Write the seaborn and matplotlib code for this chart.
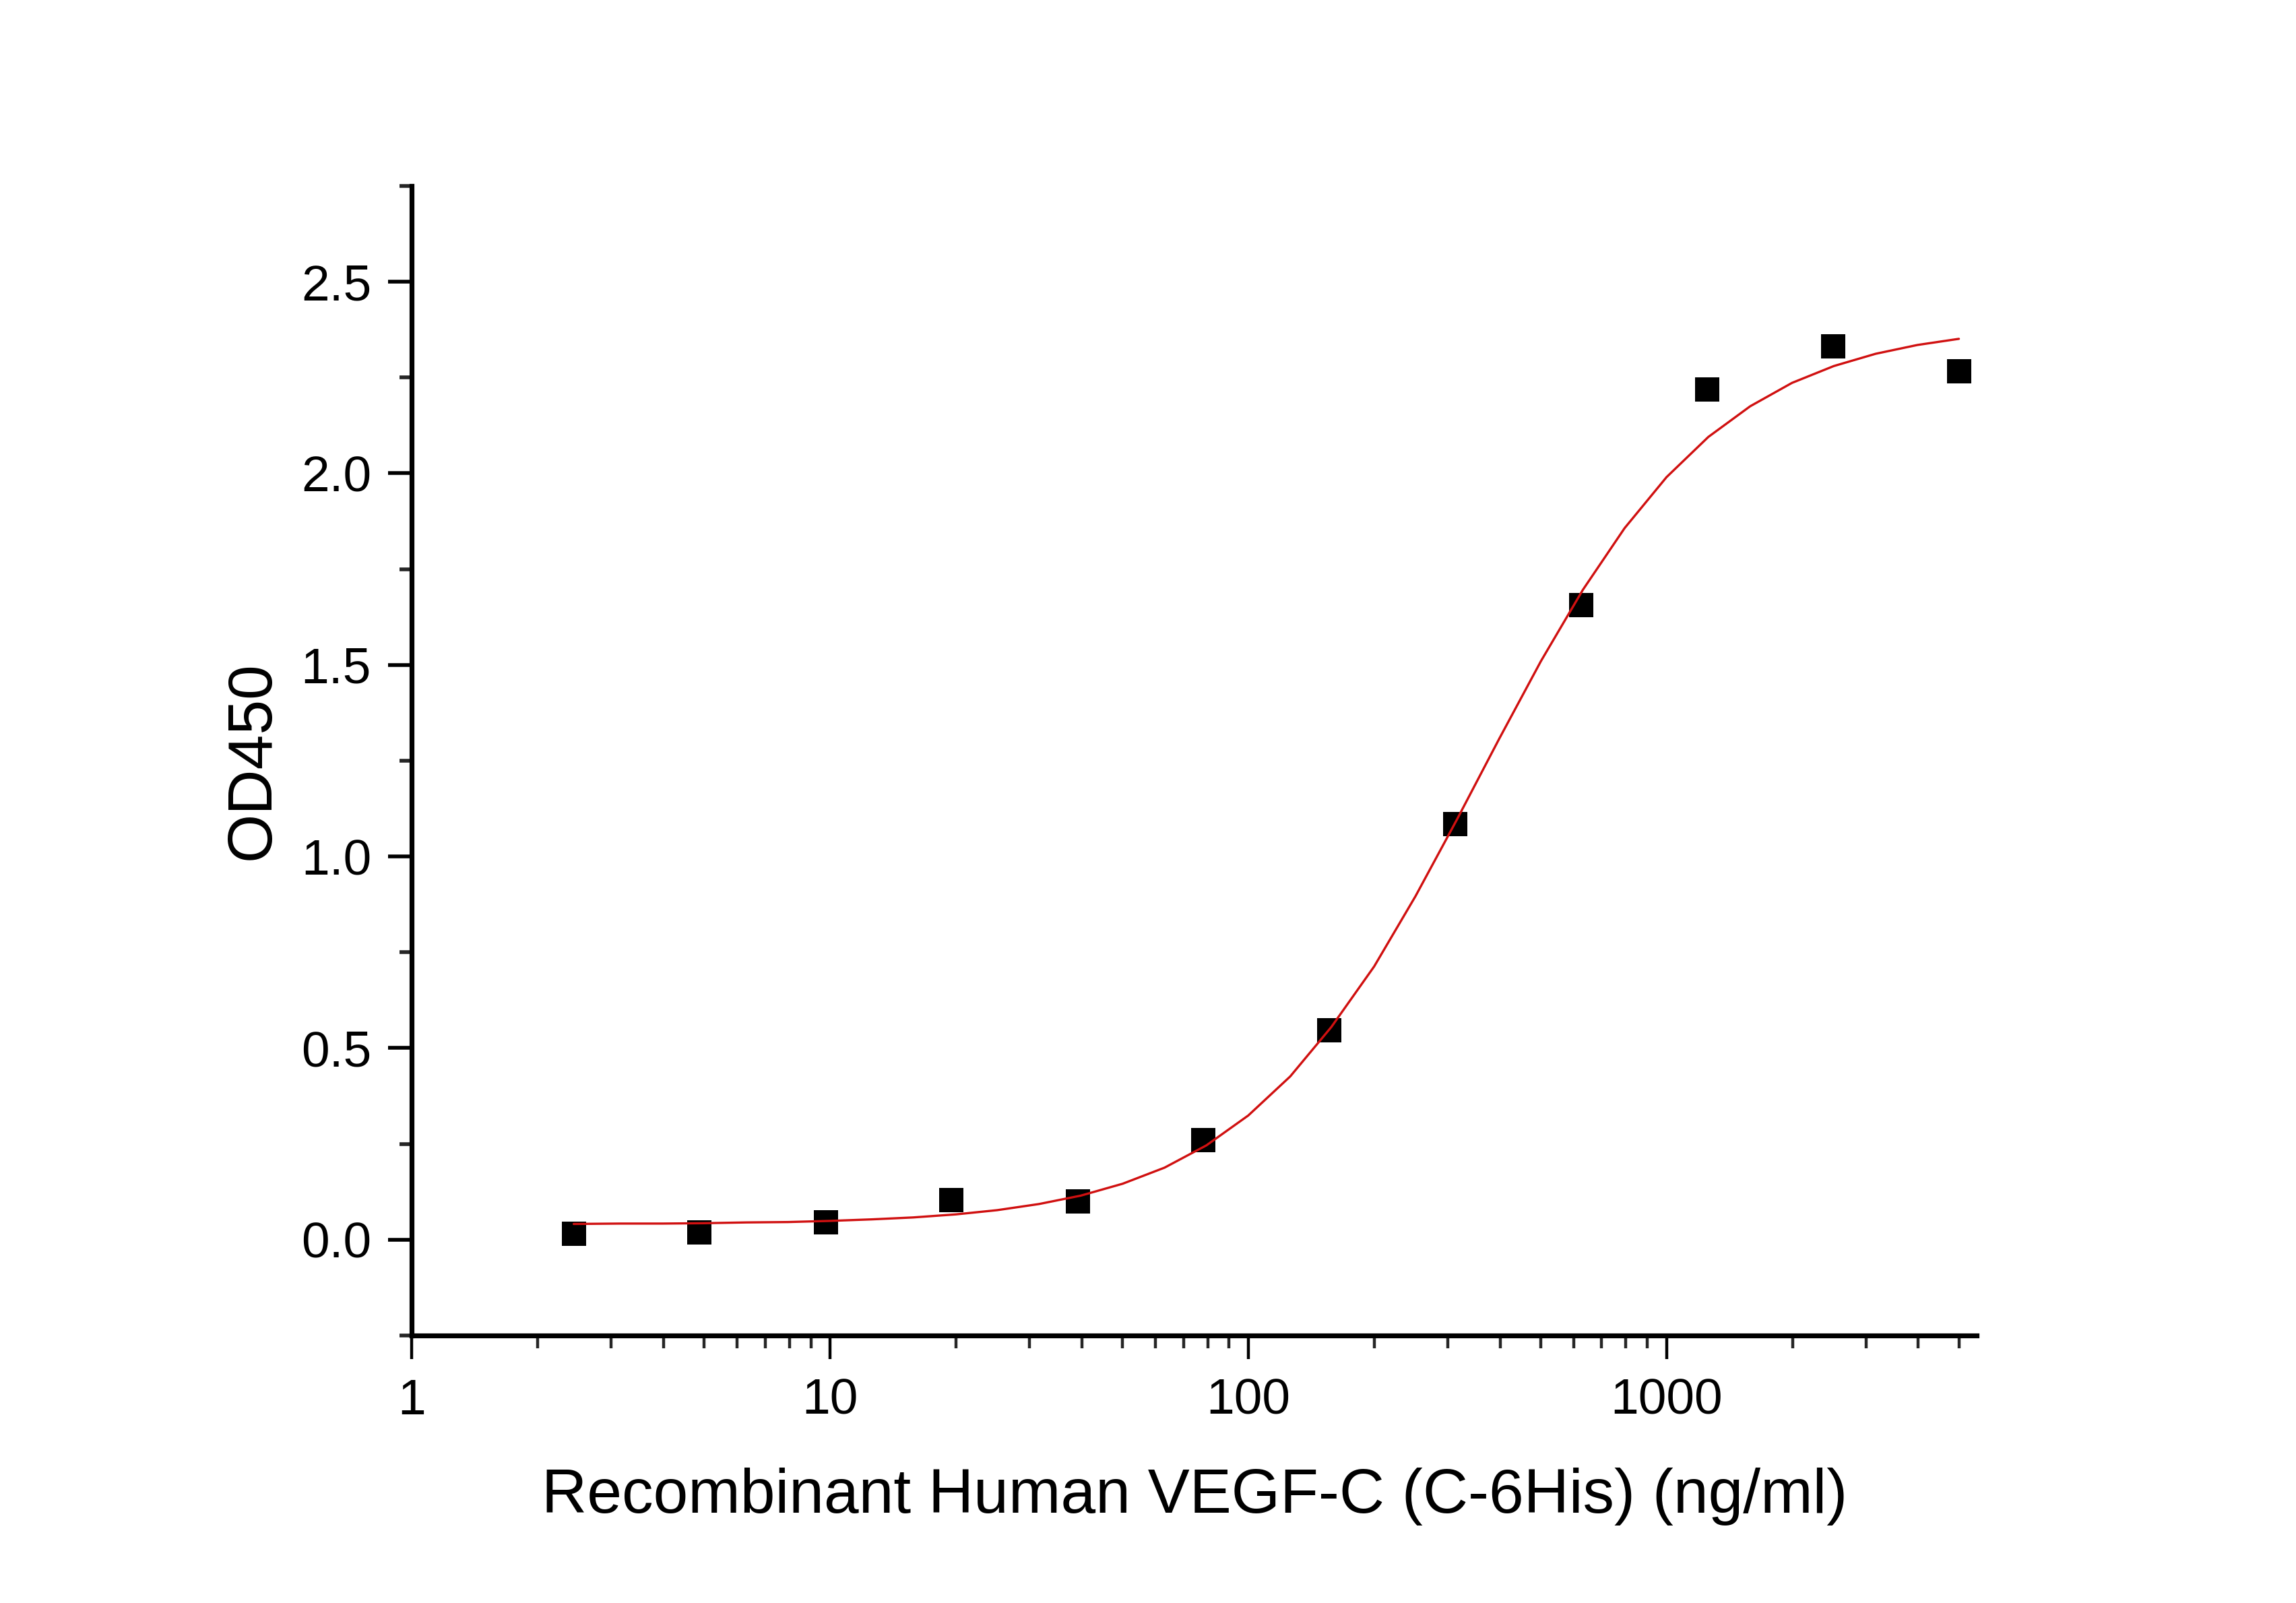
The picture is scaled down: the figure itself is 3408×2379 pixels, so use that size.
import matplotlib
matplotlib.use("Agg")
import matplotlib.pyplot as plt
from matplotlib.ticker import FixedLocator, MultipleLocator, FormatStrFormatter
import pandas as pd
import seaborn as sns

# measured points
conc = [2.44, 4.88, 9.77, 19.5, 39.1, 78.1, 156, 312.5, 625, 1250, 2500, 5000]
od450 = [0.015, 0.019, 0.046, 0.103, 0.100, 0.260, 0.546, 1.084, 1.656, 2.218, 2.332, 2.267]

# fitted curve
fit_x = [2.44, 3.16, 3.98, 5.01, 6.31, 7.94, 10.0, 12.6, 15.8, 20.0, 25.1, 31.6,
         39.8, 50.1, 63.1, 79.4, 100, 126, 158, 200, 251, 316, 398, 501, 631,
         794, 1000, 1259, 1585, 1995, 2512, 3162, 3981, 5000]
fit_y = [0.041, 0.042, 0.042, 0.043, 0.045, 0.046, 0.049, 0.053, 0.058, 0.066,
         0.077, 0.093, 0.115, 0.146, 0.188, 0.246, 0.324, 0.426, 0.555, 0.713,
         0.896, 1.098, 1.307, 1.510, 1.696, 1.857, 1.990, 2.095, 2.175, 2.236,
         2.280, 2.312, 2.335, 2.351]

x_major = [1, 10, 100, 1000]
x_minor = [2, 3, 4, 5, 6, 7, 8, 9, 20, 30, 40, 50, 60, 70, 80, 90,
           200, 300, 400, 500, 600, 700, 800, 900, 2000, 3000, 4000, 5000]

points = pd.DataFrame({'conc': conc, 'od': od450})
curve = pd.DataFrame({'conc': fit_x, 'od': fit_y})

sns.set_style('ticks')
plt.rcParams['font.family'] = ['Liberation Sans', 'DejaVu Sans']
plt.rcParams['text.color'] = 'black'
plt.rcParams['axes.labelcolor'] = 'black'

fig = plt.figure(figsize=(17.04, 11.895), dpi=200)
ax = fig.add_axes([0.1793, 0.1669, 0.8610 - 0.1793, 0.8840 - 0.1669])

sns.lineplot(data=curve, x='conc', y='od', color='#d01010', linewidth=1.2,
             ax=ax, zorder=3)
sns.scatterplot(data=points, x='conc', y='od', marker='s', color='black',
                s=175, linewidth=0, ax=ax, zorder=2)

ax.set_xscale('log')
ax.set_xlim(1, 5520)
ax.set_ylim(-0.25, 2.75)

ax.xaxis.set_major_locator(FixedLocator(x_major))
ax.xaxis.set_minor_locator(FixedLocator(x_minor))
ax.set_xticklabels(['1', '10', '100', '1000'])
ax.yaxis.set_major_locator(MultipleLocator(0.5))
ax.yaxis.set_minor_locator(MultipleLocator(0.25))
ax.yaxis.set_major_formatter(FormatStrFormatter('%.1f'))

ax.tick_params(axis='both', which='major', labelsize=27, length=12.6,
               width=2.0, direction='out', color='black', labelcolor='black')
ax.tick_params(axis='y', which='minor', length=6.5, width=2.0, direction='out')
ax.tick_params(axis='x', which='minor', length=7, width=1.6, direction='out')
ax.tick_params(axis='x', which='major', width=1.6, pad=10)
ax.tick_params(axis='y', which='major', pad=9)

sns.despine(ax=ax)
for side in ['left', 'bottom']:
    ax.spines[side].set_linewidth(2.6)
    ax.spines[side].set_color('black')

ax.set_xlabel('Recombinant Human VEGF-C (C-6His) (ng/ml)', fontsize=33.5,
              labelpad=23, color='black')
ax.set_ylabel('OD450', fontsize=33.5, labelpad=10, color='black')

fig.savefig('out.png', dpi=200, facecolor='white')
